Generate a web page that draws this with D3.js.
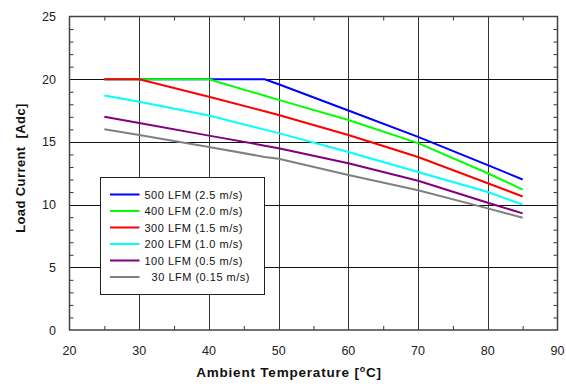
<!DOCTYPE html>
<html><head><meta charset="utf-8">
<script src="https://cdn.jsdelivr.net/npm/d3@7"></script>
<style>body{margin:0;background:#fff}svg{display:block}text{font-family:"Liberation Sans",Arial,sans-serif}</style>
</head><body><svg id="c" width="566" height="392"></svg>
<script>
const temps = [25, 30, 40, 48, 50, 60, 70, 80, 85];
const seriesNames = ["500 LFM (2.5 m/s)", "400 LFM (2.0 m/s)", "300 LFM (1.5 m/s)", "200 LFM (1.0 m/s)", "100 LFM (0.5 m/s)", "  30 LFM (0.15 m/s)"];
const seriesColors = ["#0000ff", "#00ff00", "#ff0000", "#00ffff", "#800080", "#808080"];
const lfm500 = [20, 20, 20, 20, 19.6, 17.5, 15.4, 13.15, 12.0];
const lfm400 = [20, 20, 20, 18.68, 18.35, 16.75, 14.9, 12.5, 11.2];
const lfm300 = [20, 20, 18.6, 17.44, 17.15, 15.55, 13.8, 11.7, 10.65];
const lfm200 = [18.7, 18.2, 17.1, 15.98, 15.7, 14.2, 12.6, 11.0, 10.0];
const lfm100 = [17.0, 16.5, 15.5, 14.7, 14.5, 13.3, 11.9, 10.15, 9.3];
const lfm30  = [16.0, 15.55, 14.6, 13.8, 13.65, 12.36, 11.15, 9.7, 8.95];
const seriesValues = [lfm500, lfm400, lfm300, lfm200, lfm100, lfm30];
const xTicks = [20, 30, 40, 50, 60, 70, 80, 90];
const yTicks = [0, 5, 10, 15, 20, 25];

const svg = d3.select("#c");
const L = 69.5, R = 557.5, T = 16.5, B = 330;
const x = d3.scaleLinear().domain([20, 90]).range([L, R]);
const y = d3.scaleLinear().domain([0, 25]).range([B, T]);

// grid
const g = svg.append("g");
g.selectAll(".vg").data(xTicks.slice(1, -1)).join("line")
  .attr("x1", d => Math.round(x(d)) + 0.5).attr("x2", d => Math.round(x(d)) + 0.5)
  .attr("y1", T).attr("y2", B).attr("stroke", "#333").attr("stroke-width", 1);
g.selectAll(".hg").data(yTicks.slice(1, -1)).join("line")
  .attr("y1", d => Math.round(y(d)) + 0.5).attr("y2", d => Math.round(y(d)) + 0.5)
  .attr("x1", L).attr("x2", R).attr("stroke", "#111").attr("stroke-width", 1);

// axes with minor ticks (inward)
const xMinor = d3.range(25, 90, 10);
const yMinor = d3.range(1, 25, 1).filter(v => v % 5 !== 0);
const axB = d3.axisBottom(x).tickValues(xMinor).tickSize(-4).tickFormat("");
const axT = d3.axisTop(x).tickValues(xMinor).tickSize(-4).tickFormat("");
const axL = d3.axisLeft(y).tickValues(yMinor).tickSize(-4).tickFormat("");
const axR = d3.axisRight(y).tickValues(yMinor).tickSize(-4).tickFormat("");
[[axB, `translate(0,${B})`], [axT, `translate(0,${T})`], [axL, `translate(${L},0)`], [axR, `translate(${R},0)`]].forEach(([a, t]) => {
  const ga = svg.append("g").attr("transform", t).call(a);
  ga.select(".domain").remove();
  ga.selectAll("line").attr("stroke", "#333");
});
svg.append("rect").attr("x", L).attr("y", T).attr("width", R - L).attr("height", B - T)
  .attr("fill", "none").attr("stroke", "#444").attr("stroke-width", 1.5);

// tick labels
svg.append("g").selectAll("text").data(xTicks).join("text")
  .attr("x", d => x(d)).attr("y", 355).attr("text-anchor", "middle")
  .attr("font-size", 12.5).attr("fill", "#222").text(d => d);
svg.append("g").selectAll("text").data(yTicks).join("text")
  .attr("x", 56).attr("y", d => y(d) + 4.5).attr("text-anchor", "end")
  .attr("font-size", 12.5).attr("fill", "#222").text(d => d);

// titles
const xt = svg.append("text").attr("x", 289).attr("y", 377).attr("text-anchor", "middle")
  .attr("font-size", 13.5).attr("font-weight", "bold").attr("fill", "#111")
  .attr("letter-spacing", 0.8);
xt.append("tspan").text("Ambient Temperature [");
xt.append("tspan").attr("font-size", 9).attr("dy", -5).text("o");
xt.append("tspan").attr("dy", 5).text("C]");
svg.append("text").attr("transform", "translate(25,168) rotate(-90)").attr("text-anchor", "middle")
  .attr("font-size", 13).attr("font-weight", "bold").attr("fill", "#111").attr("letter-spacing", 0.4)
  .attr("style", "white-space:pre").text("Load Current  [Adc]");

// lines
const line = d3.line().x((d, i) => x(temps[i])).y(d => y(d));
svg.append("g").selectAll("path").data(seriesValues).join("path")
  .attr("d", d => line(d)).attr("fill", "none")
  .attr("stroke", (d, i) => seriesColors[i]).attr("stroke-width", 2);

// legend
const lg = svg.append("g");
lg.append("rect").attr("x", 100.5).attr("y", 177.5).attr("width", 164).attr("height", 117)
  .attr("fill", "#fff").attr("stroke", "#222").attr("stroke-width", 1);
seriesNames.forEach((n, i) => {
  const yy = 194.5 + i * 16.5;
  lg.append("line").attr("x1", 110).attr("x2", 139.5).attr("y1", yy).attr("y2", yy)
    .attr("stroke", seriesColors[i]).attr("stroke-width", 2);
  lg.append("text").attr("x", 144.5).attr("y", yy + 4).attr("font-size", 11).attr("letter-spacing", 0.5)
    .attr("fill", "#111").attr("style", "white-space:pre").text(n);
});
</script></body></html>
